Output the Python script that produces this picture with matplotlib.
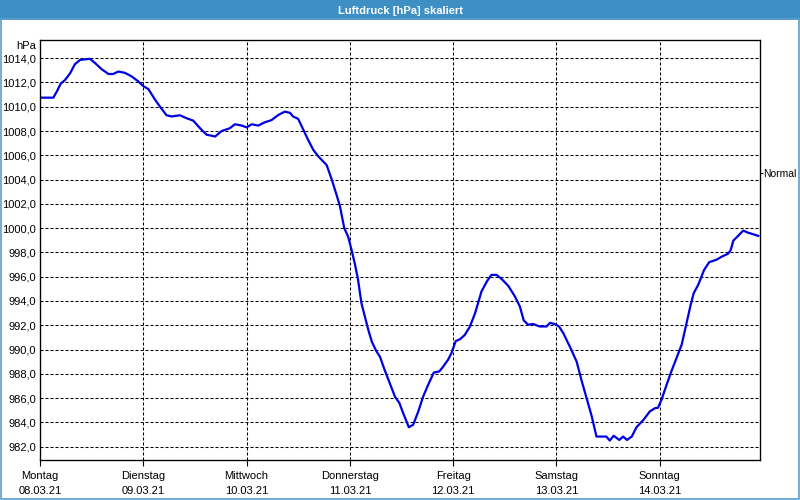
import numpy as np
import matplotlib.pyplot as plt
from matplotlib.ticker import FuncFormatter, MultipleLocator
from matplotlib.patches import Rectangle

# Stunden ab Montag 08.03.21 00:00 und Luftdruck in hPa
hours = [0.0, 3.1, 3.9, 4.8, 5.8, 7.0, 8.1, 9.3, 11.6, 12.8, 14.3, 15.9, 17.0,
         18.2, 19.7, 21.3, 22.8, 24.0, 25.2, 26.7, 27.9, 29.4, 30.6, 32.5, 34.1,
         35.6, 37.2, 38.7, 40.7, 42.2, 44.1, 45.3, 46.9, 48.0, 49.2, 50.7, 52.3,
         53.8, 55.4, 56.9, 58.1, 58.8, 60.0, 61.2, 62.3, 63.5, 64.7, 65.8, 66.6,
         67.8, 68.9, 69.7, 70.3, 70.7, 71.6, 72.4, 73.2, 73.9, 74.7, 75.5, 76.3,
         77.1, 78.1, 79.0, 80.1, 81.3, 82.5, 83.5, 84.4, 85.7, 86.7, 87.9, 89.0,
         90.2, 91.5, 92.8, 93.7, 94.8, 95.6, 96.6, 97.6, 98.7, 99.9, 101.1, 102.6,
         103.9, 104.9, 106.1, 107.3, 108.8, 110.3, 111.5, 112.4, 113.4, 114.6,
         116.1, 117.7, 118.5, 119.6, 120.6, 121.6, 123.1, 124.7, 125.8, 127.0,
         128.2, 129.3, 131.6, 132.4, 133.3, 134.6, 135.5, 136.4, 137.5, 138.6,
         140.2, 141.7, 142.9, 143.6, 144.4, 145.6, 146.7, 147.9, 149.1, 149.8,
         150.4, 151.2, 151.9, 152.9, 153.7, 154.3, 155.5, 157.2, 158.4, 159.9,
         160.5, 161.1, 162.2, 163.4, 164.5, 165.7, 166.9]
pressure = [1010.75, 1010.75, 1011.25, 1011.9, 1012.2, 1012.76, 1013.5, 1013.86,
            1013.95, 1013.6, 1013.1, 1012.7, 1012.7, 1012.9, 1012.8, 1012.5,
            1012.1, 1011.7, 1011.45, 1010.6, 1010.0, 1009.3, 1009.2, 1009.3,
            1009.05, 1008.86, 1008.23, 1007.7, 1007.55, 1008.0, 1008.23, 1008.56,
            1008.45, 1008.3, 1008.56, 1008.45, 1008.73, 1008.9, 1009.33, 1009.6,
            1009.5, 1009.2, 1009.0, 1008.1, 1007.27, 1006.45, 1005.9, 1005.5,
            1005.2, 1004.0, 1002.75, 1001.8, 1000.7, 1000.0, 999.3, 998.2, 997.0,
            995.75, 993.8, 992.7, 991.6, 990.65, 989.9, 989.4, 988.3, 987.2,
            986.1, 985.6, 984.75, 983.6, 983.8, 984.9, 986.1, 987.1, 988.1, 988.2,
            988.6, 989.15, 989.7, 990.7, 990.85, 991.2, 991.9, 993.0, 994.8,
            995.65, 996.15, 996.15, 995.8, 995.25, 994.4, 993.55, 992.4, 992.05,
            992.1, 991.9, 991.9, 992.2, 992.1, 991.9, 991.35, 990.25, 989.0,
            987.5, 986.0, 984.5, 982.83, 982.83, 982.5, 982.9, 982.55, 982.83,
            982.55, 982.83, 983.6, 984.2, 984.9, 985.17, 985.2, 985.85, 987.1,
            988.2, 989.3, 990.4, 991.5, 992.45, 993.7, 994.65, 995.3, 996.0,
            996.55, 997.2, 997.4, 997.65, 997.9, 998.2, 998.97, 999.36, 999.8,
            999.63, 999.5, 999.36]

day_names = ["Montag", "Dienstag", "Mittwoch", "Donnerstag", "Freitag",
             "Samstag", "Sonntag"]
dates = ["08.03.21", "09.03.21", "10.03.21", "11.03.21", "12.03.21",
         "13.03.21", "14.03.21"]
NORMAL = 1004.55

plt.rcParams['font.family'] = ['Liberation Sans', 'DejaVu Sans']
plt.rcParams['font.size'] = 8

fig = plt.figure(figsize=(8, 5), dpi=100)
# Titelleiste und Rahmen
fig.patches.append(Rectangle((0, 0.96), 1, 0.04, transform=fig.transFigure,
                             facecolor='#3d8fc4', edgecolor='none', zorder=0))
fig.patches.append(Rectangle((0.001, 0.002), 0.998, 0.96, transform=fig.transFigure,
                             facecolor='none', edgecolor='#5a9fd0', lw=1.2, zorder=0))
fig.text(0.5, 0.979, "Luftdruck [hPa] skaliert", color='white', fontweight='bold',
         ha='center', va='center', fontsize=8)

ax = fig.add_axes([0.05, 0.08, 0.90, 0.84])
ax.plot(hours, pressure, color='#0000e6', lw=1.6)

ax.set_xlim(0, 167.3)
ax.set_ylim(980.9, 1015.5)
ax.yaxis.set_major_locator(MultipleLocator(2))
ax.yaxis.set_major_formatter(FuncFormatter(lambda v, p: ("%.1f" % v).replace('.', ',')))
ax.set_xticks([24 * i for i in range(len(day_names))])
ax.set_xticklabels([n + "\n" + d for n, d in zip(day_names, dates)], linespacing=1.55)

ax.grid(True, color='black', lw=0.75, linestyle=(0, (2.9, 1.9)))
ax.tick_params(axis='y', length=0, pad=3)
ax.tick_params(axis='x', length=4, width=0.8, pad=4, direction='out')
for s in ax.spines.values():
    s.set_linewidth(0.9)

ax.text(-0.005, 1.0 - 0.0137, "hPa", transform=ax.transAxes, ha='right', va='center')

ax2 = ax.twinx()
ax2.set_ylim(ax.get_ylim())
ax2.set_yticks([NORMAL])
ax2.set_yticklabels(["Normal"], fontsize=7.5)
ax2.tick_params(axis='y', length=2, pad=0.5)

fig.savefig("out.png", dpi=100)
